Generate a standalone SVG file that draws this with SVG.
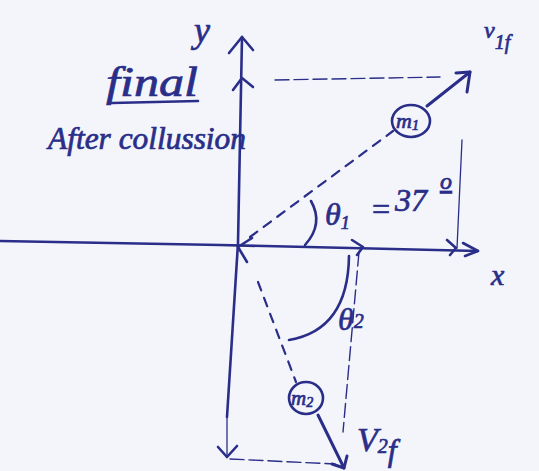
<svg xmlns="http://www.w3.org/2000/svg" width="539" height="471" viewBox="0 0 539 471">
<style>
.ink{stroke:#2a2e88;fill:none;stroke-linecap:round;stroke-linejoin:round}
.axis{stroke-width:2.6}
.thin{stroke-width:1.3}
.dash{stroke-width:2.2;stroke-dasharray:9 8}
.ldash{stroke-width:1.4;stroke-dasharray:14 5}
.vec{stroke-width:3}
text{font-family:"Liberation Serif","DejaVu Serif",serif;font-style:italic;fill:#2a2e88;stroke:#2a2e88;stroke-width:0.7}
</style>
<rect width="539" height="471" fill="#f3f5fb"/>
<g id="connectors">
  <polyline class="ink axis" points="0,241 220,245 478,251"/>
  <polyline class="ink axis" points="463,243 478,251 465,256"/>
  <polyline class="ink axis" points="242,37 238,243 227,417"/>
  <polyline class="ink axis" points="229,53 242,37 253,50"/>
  <polyline class="ink thin" points="227,412 227,457"/>
  <polyline class="ink axis" points="218,447 227,457 237,446"/>
  <polyline class="ink axis" points="233,90 242,78 253,87"/>
  <polyline class="ink axis" points="252,238 238,247 247,262"/>
  <polyline class="ink axis" points="352,240 363,247 357,255"/>
  <polyline class="ink axis" points="447,240 456,248 450,255"/>
  <line class="ink thin" x1="462" y1="140" x2="457" y2="248"/>
  <line class="ink ldash" x1="275" y1="80" x2="440" y2="77"/>
  <line class="ink ldash" x1="359" y1="252" x2="343" y2="432"/>
  <line class="ink ldash" x1="230" y1="459" x2="335" y2="464"/>
  <line class="ink dash" x1="250" y1="237" x2="393" y2="131"/>
  <line class="ink dash" x1="258" y1="282" x2="296" y2="382"/>
  <path class="ink axis" d="M305,245 Q324,224 311,201"/>
  <path class="ink axis" d="M349,256 Q348,330 289,340"/>
  <line class="ink vec" x1="427" y1="106" x2="470" y2="72"/>
  <polyline class="ink vec" points="456,73 470,72 467,92"/>
  <line class="ink vec" x1="318" y1="415" x2="344" y2="468"/>
  <polyline class="ink vec" points="332,464 344,468 347,456"/>
</g>
<g id="m1">
  <ellipse class="ink axis" cx="411" cy="121" rx="19" ry="16"/>
  <text x="396" y="128" font-size="22">m<tspan font-size="14" dy="2">1</tspan></text>
</g>
<g id="m2">
  <ellipse class="ink axis" cx="306" cy="398" rx="17" ry="16"/>
  <text x="291" y="405" font-size="21">m<tspan font-size="14" dy="2">2</tspan></text>
</g>
<g id="labels">
  <text x="194" y="42" font-size="36">y</text>
  <text x="491" y="285" font-size="30">x</text>
  <text x="106" y="96" font-size="42" textLength="92" lengthAdjust="spacingAndGlyphs">final</text>
  <line class="ink axis" x1="112" y1="103" x2="198" y2="101"/>
  <text x="48" y="149" font-size="31" textLength="198" lengthAdjust="spacingAndGlyphs">After collussion</text>
  <text x="484" y="38" font-size="24">v<tspan font-size="20" dy="11">1f</tspan></text>
  <text x="325" y="225" font-size="32">θ<tspan font-size="18" dy="4">1</tspan></text>
  <text x="370" y="220" font-size="32">=</text>
  <text x="395" y="211" font-size="32">37</text>
  <text x="440" y="189" font-size="24" text-decoration="underline">o</text>
  <text x="338" y="330" font-size="32">θ<tspan font-size="20" dy="-2">2</tspan></text>
  <text x="357" y="451" font-size="34">V<tspan font-size="20" dy="2">2</tspan><tspan font-size="32" dy="8">f</tspan></text>
</g>
</svg>
